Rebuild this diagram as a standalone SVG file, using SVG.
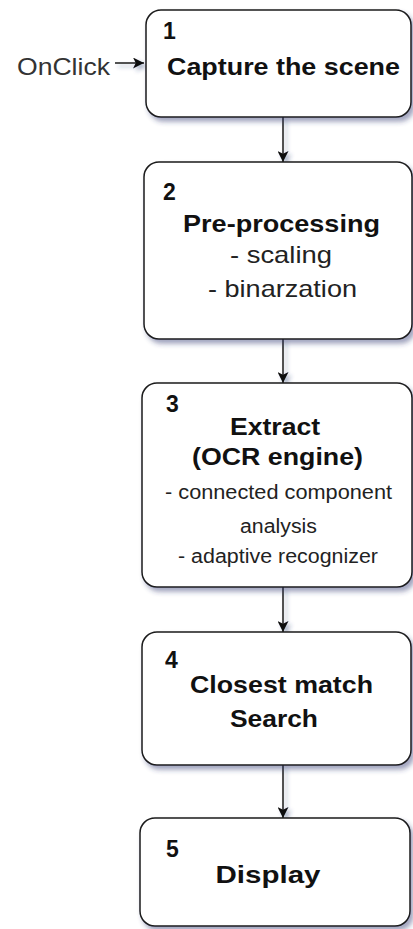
<svg xmlns="http://www.w3.org/2000/svg" width="413" height="929" viewBox="0 0 413 929">
  <defs>
    <filter id="shadow" x="-10%" y="-10%" width="130%" height="130%">
      <feDropShadow dx="3" dy="4" stdDeviation="2.5" flood-color="#2a3570" flood-opacity="0.45"/>
    </filter>
    <!-- straight connectors have an empty bounding box, so their shadow uses canvas units -->
    <filter id="lineShadow" filterUnits="userSpaceOnUse" x="0" y="0" width="413" height="929">
      <feDropShadow dx="3" dy="3" stdDeviation="2" flood-color="#2a3570" flood-opacity="0.4"/>
    </filter>
    <marker id="arrow" viewBox="0 0 10 10" refX="10" refY="5" markerWidth="11" markerHeight="11" markerUnits="userSpaceOnUse" orient="auto">
      <path d="M0,0 L10,5 L0,10 L2.5,5 Z" fill="#111"/>
    </marker>
  </defs>
  <style>
    .box { fill: #ffffff; stroke: #1a1a1a; stroke-width: 1.5; filter: url(#shadow); }
    .edge { fill: none; stroke: #1a1a1a; stroke-width: 1.5; marker-end: url(#arrow); }
    .num { font-family: "Liberation Sans", Arial, sans-serif; font-weight: bold; font-size: 23px; fill: #111; }
    .title { font-family: "Liberation Sans", Arial, sans-serif; font-weight: bold; font-size: 24px; fill: #111; text-anchor: middle; }
    .item { font-family: "Liberation Sans", Arial, sans-serif; font-size: 24px; fill: #222; text-anchor: middle; }
    .small { font-family: "Liberation Sans", Arial, sans-serif; font-size: 20px; fill: #222; text-anchor: middle; }
    .label { font-family: "Liberation Sans", Arial, sans-serif; font-size: 24px; fill: #333; }
  </style>

  <rect width="413" height="929" fill="#ffffff"/>

  <!-- connectors -->
  <g id="connectors" filter="url(#lineShadow)">
    <line class="edge" x1="115" y1="63" x2="144" y2="63"/>
    <line class="edge" x1="283" y1="117" x2="283" y2="162"/>
    <line class="edge" x1="283" y1="339" x2="283" y2="383"/>
    <line class="edge" x1="283" y1="587" x2="283" y2="632"/>
    <line class="edge" x1="283" y1="765" x2="283" y2="818"/>
  </g>

  <g id="onclick">
    <text class="label" x="17" y="75" textLength="93" lengthAdjust="spacingAndGlyphs">OnClick</text>
  </g>

  <g id="step1">
    <rect class="box" x="146" y="10" width="265" height="107" rx="15"/>
    <text class="num" x="163" y="39">1</text>
    <text class="title" x="283.5" y="75" textLength="233" lengthAdjust="spacingAndGlyphs">Capture the scene</text>
  </g>

  <g id="step2">
    <rect class="box" x="144" y="162" width="268" height="177" rx="15"/>
    <text class="num" x="163" y="200">2</text>
    <text class="title" x="281.5" y="232" textLength="197" lengthAdjust="spacingAndGlyphs">Pre-processing</text>
    <text class="item" x="281" y="263" textLength="102" lengthAdjust="spacingAndGlyphs">- scaling</text>
    <text class="item" x="282.5" y="297" textLength="149" lengthAdjust="spacingAndGlyphs">- binarzation</text>
  </g>

  <g id="step3">
    <rect class="box" x="142" y="383" width="270" height="204" rx="15"/>
    <text class="num" x="166" y="412">3</text>
    <text class="title" x="275" y="435" textLength="90" lengthAdjust="spacingAndGlyphs">Extract</text>
    <text class="title" x="277.5" y="465" textLength="171" lengthAdjust="spacingAndGlyphs">(OCR engine)</text>
    <text class="small" x="278.5" y="499" textLength="227" lengthAdjust="spacingAndGlyphs">- connected component</text>
    <text class="small" x="278.5" y="533" textLength="77" lengthAdjust="spacingAndGlyphs">analysis</text>
    <text class="small" x="278" y="563" textLength="200" lengthAdjust="spacingAndGlyphs">- adaptive recognizer</text>
  </g>

  <g id="step4">
    <rect class="box" x="142" y="632" width="269" height="133" rx="15"/>
    <text class="num" x="165" y="668">4</text>
    <text class="title" x="281.5" y="693" textLength="183" lengthAdjust="spacingAndGlyphs">Closest match</text>
    <text class="title" x="274" y="727" textLength="88" lengthAdjust="spacingAndGlyphs">Search</text>
  </g>

  <g id="step5">
    <rect class="box" x="140" y="818" width="270" height="108" rx="15"/>
    <text class="num" x="166" y="857">5</text>
    <text class="title" x="268" y="883" textLength="105" lengthAdjust="spacingAndGlyphs">Display</text>
  </g>
</svg>
